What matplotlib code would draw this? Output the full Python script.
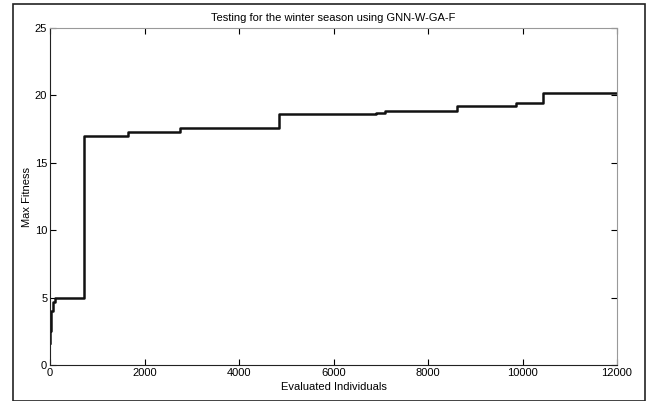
import numpy as np
import matplotlib.pyplot as plt
from matplotlib.patches import Rectangle

# evaluations at which the best fitness improved, and the new best value
evals = [0, 10, 30, 60, 100, 720, 1650, 2750, 4850, 6900, 7100, 8610, 9860, 10430, 12000]
fitness = [1.6, 2.5, 4.0, 4.7, 5.0, 17.0, 17.3, 17.6, 18.6, 18.7, 18.85, 19.2, 19.45, 20.15, 20.15]

xticks = [0, 2000, 4000, 6000, 8000, 10000, 12000]
yticks = [0, 5, 10, 15, 20, 25]

plt.rcParams['font.family'] = ['Liberation Sans', 'DejaVu Sans']

fig = plt.figure(figsize=(6.48, 4.01), dpi=100)
ax = fig.add_axes([50 / 648, 1 - 365 / 401, 567 / 648, 337 / 401])

ax.step(evals, fitness, where='post', color='#111111', linewidth=1.8)

ax.set_xlim(0, 12000)
ax.set_ylim(0, 25)
ax.set_xticks(xticks)
ax.set_yticks(yticks)
ax.tick_params(direction='in', length=4, width=0.8, labelsize=8,
               top=True, right=True, pad=2)
ax.spines['top'].set_color('#999999')
ax.spines['right'].set_color('#999999')
for s in ('left', 'bottom'):
    ax.spines[s].set_color('#222222')

ax.set_title('Testing for the winter season using GNN-W-GA-F', fontsize=8, pad=5)
ax.set_xlabel('Evaluated Individuals', fontsize=8, labelpad=3)
ax.set_ylabel('Max Fitness', fontsize=8, labelpad=2)

# frame round the whole figure
fig.patches.append(Rectangle((13 / 648, 0), 632 / 648, 397 / 401,
                             transform=fig.transFigure, fill=False,
                             edgecolor='#222222', linewidth=1.2))

fig.savefig('out.png', dpi=100)
